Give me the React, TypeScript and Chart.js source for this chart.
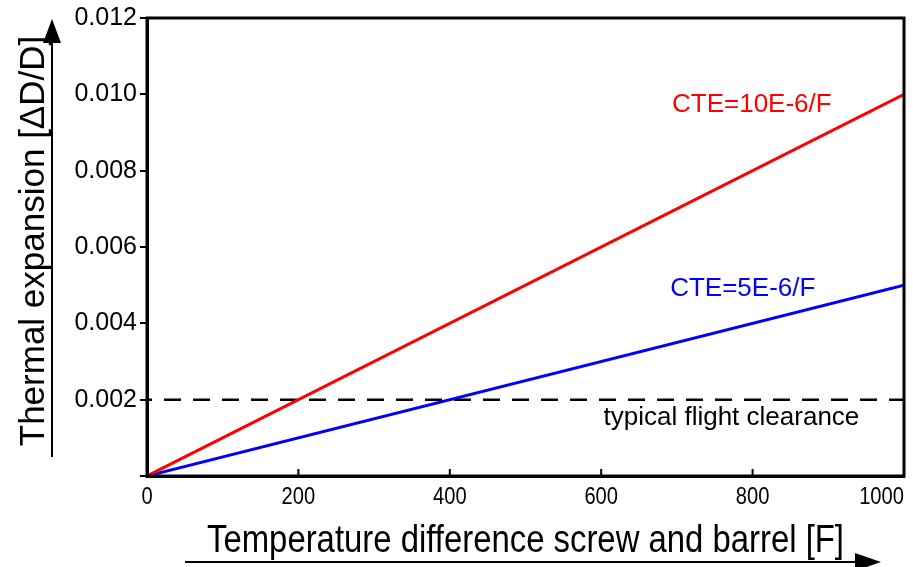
import React, { useEffect, useRef } from "react";
import { Chart, registerables } from "chart.js";

Chart.register(...registerables);

const temps = [0, 1000];
const cte10 = [0, 0.01];
const cte5 = [0, 0.005];
const clearanceTemps = [0, 1000];
const clearance = [0.002, 0.002];

const xTicks = [0, 200, 400, 600, 800, 1000];
const yTicks = [0.002, 0.004, 0.006, 0.008, 0.01, 0.012];

const labelTexts = ["CTE=10E-6/F", "CTE=5E-6/F", "typical flight clearance"];
const labelX = [799, 787, 772];
const labelY = [0.00972, 0.0049, 0.00152];
const labelColors = ["#ff0000", "#0000ff", "#000000"];

const xTitle = "Temperature difference screw and barrel [F]";
const yTitle = "Thermal expansion [\u0394D/D]";

const SANS = "'Liberation Sans', Arial, sans-serif";

function narrowText(ctx: any, text: string, x: number, y: number, sx: number, align: string) {
  ctx.save();
  ctx.translate(x, y);
  ctx.scale(sx, 1);
  ctx.textAlign = align;
  ctx.fillText(text, 0, 0);
  ctx.restore();
}

const decorPlugin = {
  id: "decor",
  afterDraw(chart: any) {
    const { ctx, chartArea } = chart;
    const xs = chart.scales.x;
    const ys = chart.scales.y;
    const { left, right, top, bottom } = chartArea;
    ctx.save();
    // frame
    ctx.strokeStyle = "#000";
    ctx.lineWidth = 3;
    ctx.strokeRect(left, top, right - left, bottom - top);

    // x ticks (inside) and labels
    ctx.lineWidth = 2;
    ctx.font = `24px ${SANS}`;
    ctx.fillStyle = "#000";
    ctx.textBaseline = "top";
    xTicks.forEach((v, i) => {
      const px = xs.getPixelForValue(v);
      if (v > 0 && px < right - 2) {
        ctx.beginPath();
        ctx.moveTo(px, bottom);
        ctx.lineTo(px, bottom - 7);
        ctx.stroke();
      }
      const label = String(v);
      if (i === xTicks.length - 1) {
        narrowText(ctx, label, right, bottom + 9, 0.84, "right");
      } else {
        narrowText(ctx, label, px, bottom + 9, 0.84, "center");
      }
    });

    // x title
    ctx.font = `38px ${SANS}`;
    ctx.textBaseline = "alphabetic";
    narrowText(ctx, xTitle, (left + right) / 2, 552, 0.865, "center");

    // x arrow
    ctx.lineWidth = 2;
    ctx.beginPath();
    ctx.moveTo(185, 562);
    ctx.lineTo(858, 562);
    ctx.stroke();
    ctx.beginPath();
    ctx.moveTo(881, 562);
    ctx.lineTo(855, 553);
    ctx.lineTo(855, 571);
    ctx.closePath();
    ctx.fill();

    // y title
    ctx.save();
    ctx.translate(44, (top + bottom) / 2 - 6);
    ctx.rotate(-Math.PI / 2);
    ctx.font = `35px ${SANS}`;
    ctx.textAlign = "center";
    ctx.textBaseline = "alphabetic";
    ctx.fillText(yTitle, 0, 0);
    ctx.restore();

    // y arrow
    ctx.beginPath();
    ctx.moveTo(52, 457);
    ctx.lineTo(52, 40);
    ctx.stroke();
    ctx.beginPath();
    ctx.moveTo(52, 19);
    ctx.lineTo(43, 43);
    ctx.lineTo(61, 43);
    ctx.closePath();
    ctx.fill();

    // annotations
    ctx.font = `26px ${SANS}`;
    ctx.textAlign = "center";
    ctx.textBaseline = "middle";
    labelTexts.forEach((t, i) => {
      ctx.fillStyle = labelColors[i];
      ctx.fillText(t, xs.getPixelForValue(labelX[i]), ys.getPixelForValue(labelY[i]));
    });
    ctx.restore();
  },
};

export default function App() {
  const ref = useRef<HTMLCanvasElement | null>(null);
  useEffect(() => {
    if (!ref.current) return;
    const chart = new Chart(ref.current, {
      type: "scatter",
      data: {
        datasets: [
          {
            label: "CTE=10E-6/F",
            data: temps.map((t, i) => ({ x: t, y: cte10[i] })),
            showLine: true,
            borderColor: "#ff0000",
            borderWidth: 3,
            pointRadius: 0,
          },
          {
            label: "CTE=5E-6/F",
            data: temps.map((t, i) => ({ x: t, y: cte5[i] })),
            showLine: true,
            borderColor: "#0000ff",
            borderWidth: 3,
            pointRadius: 0,
          },
          {
            label: "typical flight clearance",
            data: clearanceTemps.map((t, i) => ({ x: t, y: clearance[i] })),
            showLine: true,
            borderColor: "#000000",
            borderWidth: 2.5,
            borderDash: [17, 12],
            borderDashOffset: 12,
            pointRadius: 0,
          },
        ],
      },
      options: {
        responsive: false,
        animation: false,
        layout: { padding: { left: 0, top: 18, right: 9, bottom: 0 } },
        plugins: { legend: { display: false }, tooltip: { enabled: false } },
        scales: {
          x: {
            type: "linear",
            min: 0,
            max: 1000,
            ticks: { display: false, stepSize: 200 },
            grid: { display: false },
            border: { display: true, color: "#000", width: 3 },
            afterFit: (s: any) => {
              s.height = 91;
            },
          },
          y: {
            type: "linear",
            min: 0,
            max: 0.012,
            afterBuildTicks: (s: any) => {
              s.ticks = [0, ...yTicks].map((v) => ({ value: v }));
            },
            ticks: {
              color: "#000",
              font: { family: SANS, size: 25 },
              padding: 3,
              callback: (v: any) => (Number(v) === 0 ? "" : Number(v).toFixed(3)),
            },
            grid: {
              drawOnChartArea: false,
              drawTicks: true,
              tickLength: 7,
              color: "#000",
              lineWidth: 2,
            },
            border: { display: true, color: "#000", width: 3 },
            afterFit: (s: any) => {
              s.width = 147;
            },
          },
        },
      },
      plugins: [decorPlugin],
    });
    return () => chart.destroy();
  }, []);
  return (
    <div style={{ position: "fixed", left: 0, top: 0, width: 913, height: 567, background: "#fff" }}>
      <canvas ref={ref} width={913} height={567} style={{ width: 913, height: 567 }} />
    </div>
  );
}
